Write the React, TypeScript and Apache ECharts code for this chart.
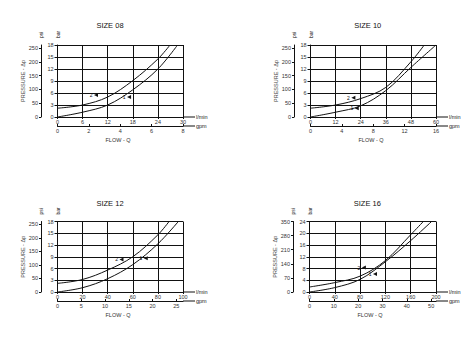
import React, { useEffect, useRef } from "react";
import * as echarts from "echarts";

const FONT = "Liberation Sans, Arial, sans-serif";

// ---- data ----
const titles = ["SIZE 08", "SIZE 10", "SIZE 12", "SIZE 16"];
const flowMax = [30, 60, 100, 200];
const flowStep = [6, 12, 20, 40];
const barMax = [18, 18, 18, 24];
const barStep = [3, 3, 3, 4];
const gpmMax = [8, 16, 26.4, 52];
const gpmTicks = [
  [0, 2, 4, 6, 8],
  [0, 4, 8, 12, 16],
  [0, 5, 10, 15, 20, 25],
  [0, 10, 20, 30, 40, 50],
];
const psiMax = [261, 261, 261, 350];
const psiTicks = [
  [0, 50, 100, 150, 200, 250],
  [0, 50, 100, 150, 200, 250],
  [0, 50, 100, 150, 200, 250],
  [0, 70, 140, 210, 280, 350],
];

// curve "1" (from origin) per panel: [l/min, bar]
const curve1 = [
  [[0, 0], [6, 1.2], [12, 3.0], [18, 6.8], [24, 12], [28.7, 18]],
  [[0, 0], [12, 1.2], [24, 2.8], [36, 6.6], [48, 12.4], [60, 18]],
  [[0, 0], [20, 1.1], [40, 3.4], [60, 7.0], [80, 12.3], [96.3, 18]],
  [[0, 0], [40, 1.5], [80, 4.3], [120, 10.3], [160, 17.5], [193, 24]],
];
// curve "2" per panel
const curve2 = [
  [[0, 2.2], [6, 3.0], [12, 5.0], [18, 9.1], [24, 14.5], [26.9, 18]],
  [[0, 2.2], [12, 3.0], [24, 4.6], [36, 7.4], [48, 13.8], [54.4, 18]],
  [[0, 2.2], [20, 3.2], [40, 5.6], [60, 9.0], [80, 14.6], [88.9, 18]],
  [[0, 1.7], [40, 3.2], [80, 5.4], [120, 10.7], [160, 19.5], [180, 24]],
];
const marker1 = [[17.1, 5.0], [22.1, 2.2], [70.3, 8.6], [103.6, 6.1]];
const marker2 = [[9.2, 5.5], [20.5, 4.8], [51, 8.3], [86, 8.3]];

// ---- layout ----
const layouts = [
  { left: 57.5, top: 45, width: 125.5, height: 72, titleX: 110, titleY: 25.7 },
  { left: 310.5, top: 45, width: 125.5, height: 72, titleX: 367.7, titleY: 25.7 },
  { left: 57.5, top: 221.5, width: 125.5, height: 70.5, titleX: 110, titleY: 204.3 },
  { left: 309.5, top: 221.5, width: 126.5, height: 70.5, titleX: 367.3, titleY: 204.3 },
];

const INK = "#111";
const LABEL = "#333";

export default function App() {
  const ref = useRef<HTMLDivElement>(null);
  useEffect(() => {
    if (!ref.current) return;
    const chart = echarts.init(ref.current, undefined, { renderer: "svg" });

    const xAxis: any[] = [];
    const yAxis: any[] = [];
    const series: any[] = [];
    const graphic: any[] = [];

    layouts.forEach((l, i) => {
      xAxis.push({
        type: "value", gridIndex: i, position: "bottom",
        min: 0, max: flowMax[i], interval: flowStep[i],
        name: "l/min", nameLocation: "end", nameGap: 13,
        nameTextStyle: { fontSize: 5.5, color: "#222", fontFamily: FONT, align: "left", verticalAlign: "middle" },
        axisLine: { show: true, onZero: false, lineStyle: { color: INK, width: 1 } },
        axisTick: { show: true, length: 2, lineStyle: { color: INK } },
        axisLabel: { fontSize: 5.5, margin: 2, color: LABEL, fontFamily: FONT },
        splitLine: { show: true, lineStyle: { color: INK, width: 1 } },
      });
      xAxis.push({
        type: "value", gridIndex: i, position: "bottom", offset: 9,
        min: 0, max: gpmMax[i],
        name: "gpm", nameLocation: "end", nameGap: 13,
        nameTextStyle: { fontSize: 5.5, color: "#222", fontFamily: FONT, align: "left", verticalAlign: "middle" },
        axisLine: { show: true, onZero: false, lineStyle: { color: INK, width: 1 } },
        axisTick: { show: true, inside: true, length: 2, customValues: gpmTicks[i], lineStyle: { color: INK } },
        axisLabel: { fontSize: 5.5, margin: 2, color: LABEL, fontFamily: FONT, customValues: gpmTicks[i] },
        splitLine: { show: false },
      });
      yAxis.push({
        type: "value", gridIndex: i, position: "left",
        min: 0, max: barMax[i], interval: barStep[i],
        name: "bar", nameLocation: "end", nameRotate: 90, nameGap: 7,
        nameTextStyle: { fontSize: 5, color: "#222", fontFamily: FONT },
        axisLine: { show: true, onZero: false, lineStyle: { color: INK, width: 1 } },
        axisTick: { show: true, length: 3, lineStyle: { color: INK } },
        axisLabel: { fontSize: 5.5, margin: 4, color: LABEL, fontFamily: FONT },
        splitLine: { show: true, lineStyle: { color: INK, width: 1 } },
      });
      yAxis.push({
        type: "value", gridIndex: i, position: "left", offset: 16.5,
        min: 0, max: psiMax[i],
        name: "psi", nameLocation: "end", nameRotate: 90, nameGap: 7,
        nameTextStyle: { fontSize: 5, color: "#222", fontFamily: FONT },
        axisLine: { show: true, onZero: false, lineStyle: { color: INK, width: 1 } },
        axisTick: { show: true, length: 2, customValues: psiTicks[i], lineStyle: { color: INK } },
        axisLabel: { fontSize: 5.5, margin: 3, color: LABEL, fontFamily: FONT, customValues: psiTicks[i] },
        splitLine: { show: false },
      });

      const mk = (coord: number[], txt: string) => ({
        symbol: "triangle", symbolSize: 4, symbolRotate: 90,
        itemStyle: { color: INK },
        label: { show: true, position: "left", distance: 1.5, formatter: txt, fontSize: 5, color: INK, fontFamily: FONT },
        data: [{ coord }],
        silent: true,
      });

      series.push({
        type: "line", xAxisIndex: 2 * i, yAxisIndex: 2 * i,
        data: curve1[i], smooth: 0.35, showSymbol: false,
        lineStyle: { color: INK, width: 1 }, silent: true,
        markPoint: mk(marker1[i], "1"),
      });
      series.push({
        type: "line", xAxisIndex: 2 * i, yAxisIndex: 2 * i,
        data: curve2[i], smooth: 0.35, showSymbol: false,
        lineStyle: { color: INK, width: 1 }, silent: true,
        markPoint: mk(marker2[i], "2"),
      });

      const right = l.left + l.width;
      const bottom = l.top + l.height;
      graphic.push({ type: "line", shape: { x1: right, y1: bottom, x2: right + 12, y2: bottom }, style: { stroke: INK, lineWidth: 1 }, silent: true });
      graphic.push({ type: "line", shape: { x1: right, y1: bottom + 9, x2: right + 12, y2: bottom + 9 }, style: { stroke: INK, lineWidth: 1 }, silent: true });
      graphic.push({
        type: "text", x: l.left + 60.5, y: bottom + 23, silent: true,
        style: { text: "FLOW - Q", align: "center", verticalAlign: "middle", fontSize: 5.5, fill: "#333", fontFamily: FONT },
      });
      graphic.push({
        type: "text", x: l.left - 35, y: l.top + l.height / 2, rotation: Math.PI / 2, silent: true,
        style: { text: "PRESSURE - Δp", align: "center", verticalAlign: "middle", fontSize: 5.5, fill: "#444", fontFamily: FONT },
      });
    });

    const option: any = {
      animation: false,
      backgroundColor: "#fff",
      textStyle: { fontFamily: FONT },
      title: layouts.map((l, i) => ({
        text: titles[i], left: l.titleX, top: l.titleY - 4.5, textAlign: "center", padding: 0,
        textStyle: { fontSize: 7.5, fontWeight: "normal", color: INK, fontFamily: FONT },
      })),
      grid: layouts.map((l) => ({
        left: l.left, top: l.top, width: l.width, height: l.height,
        containLabel: false, outerBoundsMode: "none", show: false,
      })),
      xAxis, yAxis, series, graphic,
    };
    chart.setOption(option);
    return () => chart.dispose();
  }, []);

  return (
    <div
      ref={ref}
      style={{ position: "absolute", left: 0, top: 0, width: 475, height: 352, background: "#fff" }}
    />
  );
}
